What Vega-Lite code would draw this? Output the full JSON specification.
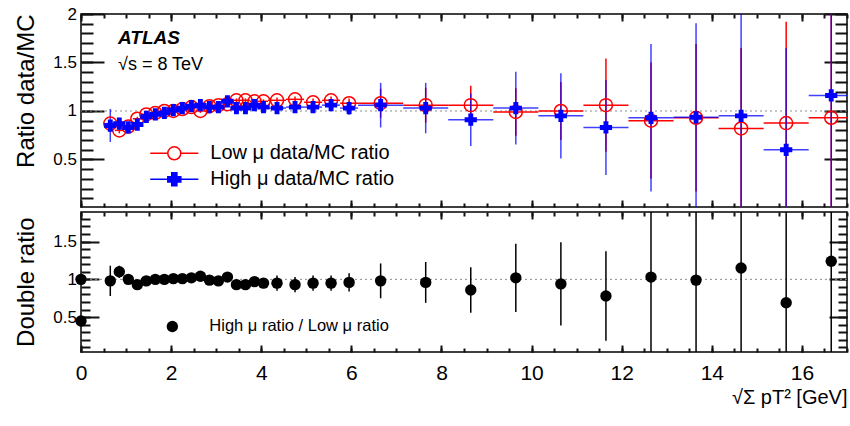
{
  "$schema": "https://vega.github.io/schema/vega-lite/v6.json",
  "autosize": {"type": "pad"},
  "padding": {"left": 13, "top": 4, "right": 4, "bottom": 4},
  "background": "white",
  "spacing": 1,
  "datasets": {
    "low": [
      {"x": 0.65, "xlo": 0.55, "xhi": 0.75, "y": 0.87, "ylo": 0.84, "yhi": 0.90},
      {"x": 0.85, "xlo": 0.75, "xhi": 0.95, "y": 0.80, "ylo": 0.77, "yhi": 0.83},
      {"x": 1.05, "xlo": 0.95, "xhi": 1.15, "y": 0.84, "ylo": 0.82, "yhi": 0.86},
      {"x": 1.25, "xlo": 1.15, "xhi": 1.35, "y": 0.92, "ylo": 0.90, "yhi": 0.94},
      {"x": 1.45, "xlo": 1.35, "xhi": 1.55, "y": 0.965, "ylo": 0.945, "yhi": 0.985},
      {"x": 1.65, "xlo": 1.55, "xhi": 1.75, "y": 0.98, "ylo": 0.96, "yhi": 1.00},
      {"x": 1.85, "xlo": 1.75, "xhi": 1.95, "y": 1.00, "ylo": 0.98, "yhi": 1.02},
      {"x": 2.05, "xlo": 1.95, "xhi": 2.15, "y": 1.00, "ylo": 0.98, "yhi": 1.02},
      {"x": 2.25, "xlo": 2.15, "xhi": 2.35, "y": 1.02, "ylo": 1.00, "yhi": 1.04},
      {"x": 2.45, "xlo": 2.35, "xhi": 2.55, "y": 1.04, "ylo": 1.02, "yhi": 1.06},
      {"x": 2.65, "xlo": 2.55, "xhi": 2.75, "y": 1.00, "ylo": 0.98, "yhi": 1.02},
      {"x": 2.85, "xlo": 2.75, "xhi": 2.95, "y": 1.05, "ylo": 1.03, "yhi": 1.07},
      {"x": 3.05, "xlo": 2.95, "xhi": 3.15, "y": 1.06, "ylo": 1.04, "yhi": 1.08},
      {"x": 3.25, "xlo": 3.15, "xhi": 3.35, "y": 1.07, "ylo": 1.05, "yhi": 1.09},
      {"x": 3.45, "xlo": 3.35, "xhi": 3.55, "y": 1.11, "ylo": 1.09, "yhi": 1.13},
      {"x": 3.65, "xlo": 3.55, "xhi": 3.75, "y": 1.11, "ylo": 1.09, "yhi": 1.13},
      {"x": 3.85, "xlo": 3.75, "xhi": 3.95, "y": 1.10, "ylo": 1.08, "yhi": 1.12},
      {"x": 4.05, "xlo": 3.95, "xhi": 4.15, "y": 1.10, "ylo": 1.08, "yhi": 1.12},
      {"x": 4.35, "xlo": 4.15, "xhi": 4.55, "y": 1.11, "ylo": 1.08, "yhi": 1.14},
      {"x": 4.75, "xlo": 4.55, "xhi": 4.95, "y": 1.12, "ylo": 1.09, "yhi": 1.15},
      {"x": 5.15, "xlo": 4.95, "xhi": 5.35, "y": 1.09, "ylo": 1.05, "yhi": 1.13},
      {"x": 5.55, "xlo": 5.35, "xhi": 5.75, "y": 1.11, "ylo": 1.07, "yhi": 1.15},
      {"x": 5.95, "xlo": 5.75, "xhi": 6.15, "y": 1.08, "ylo": 1.03, "yhi": 1.13},
      {"x": 6.65, "xlo": 6.15, "xhi": 7.15, "y": 1.08, "ylo": 0.93, "yhi": 1.23},
      {"x": 7.65, "xlo": 7.15, "xhi": 8.15, "y": 1.06, "ylo": 0.88, "yhi": 1.24},
      {"x": 8.65, "xlo": 8.15, "xhi": 9.15, "y": 1.06, "ylo": 0.86, "yhi": 1.26},
      {"x": 9.65, "xlo": 9.15, "xhi": 10.15, "y": 0.99, "ylo": 0.745, "yhi": 1.235},
      {"x": 10.65, "xlo": 10.15, "xhi": 11.15, "y": 1.00, "ylo": 0.70, "yhi": 1.30},
      {"x": 11.65, "xlo": 11.15, "xhi": 12.15, "y": 1.06, "ylo": 0.58, "yhi": 1.54},
      {"x": 12.65, "xlo": 12.15, "xhi": 13.15, "y": 0.90, "ylo": 0.30, "yhi": 1.50},
      {"x": 13.65, "xlo": 13.15, "xhi": 14.15, "y": 0.93, "ylo": 0.17, "yhi": 1.69},
      {"x": 14.65, "xlo": 14.15, "xhi": 15.15, "y": 0.82, "ylo": -0.01, "yhi": 1.65},
      {"x": 15.65, "xlo": 15.15, "xhi": 16.15, "y": 0.875, "ylo": -0.17, "yhi": 1.92},
      {"x": 16.65, "xlo": 16.15, "xhi": 17.15, "y": 0.93, "ylo": -0.27, "yhi": 2.13}
    ],
    "high": [
      {"x": 0.65, "xlo": 0.55, "xhi": 0.75, "y": 0.85, "ylo": 0.68, "yhi": 1.02},
      {"x": 0.85, "xlo": 0.75, "xhi": 0.95, "y": 0.87, "ylo": 0.81, "yhi": 0.93},
      {"x": 1.05, "xlo": 0.95, "xhi": 1.15, "y": 0.83, "ylo": 0.79, "yhi": 0.87},
      {"x": 1.25, "xlo": 1.15, "xhi": 1.35, "y": 0.86, "ylo": 0.82, "yhi": 0.90},
      {"x": 1.45, "xlo": 1.35, "xhi": 1.55, "y": 0.94, "ylo": 0.91, "yhi": 0.97},
      {"x": 1.65, "xlo": 1.55, "xhi": 1.75, "y": 0.965, "ylo": 0.935, "yhi": 0.995},
      {"x": 1.85, "xlo": 1.75, "xhi": 1.95, "y": 0.98, "ylo": 0.95, "yhi": 1.01},
      {"x": 2.05, "xlo": 1.95, "xhi": 2.15, "y": 1.01, "ylo": 0.98, "yhi": 1.04},
      {"x": 2.25, "xlo": 2.15, "xhi": 2.35, "y": 1.03, "ylo": 1.00, "yhi": 1.06},
      {"x": 2.45, "xlo": 2.35, "xhi": 2.55, "y": 1.05, "ylo": 1.02, "yhi": 1.08},
      {"x": 2.65, "xlo": 2.55, "xhi": 2.75, "y": 1.06, "ylo": 1.03, "yhi": 1.09},
      {"x": 2.85, "xlo": 2.75, "xhi": 2.95, "y": 1.04, "ylo": 1.01, "yhi": 1.07},
      {"x": 3.05, "xlo": 2.95, "xhi": 3.15, "y": 1.04, "ylo": 1.01, "yhi": 1.07},
      {"x": 3.25, "xlo": 3.15, "xhi": 3.35, "y": 1.10, "ylo": 1.07, "yhi": 1.13},
      {"x": 3.45, "xlo": 3.35, "xhi": 3.55, "y": 1.03, "ylo": 0.99, "yhi": 1.07},
      {"x": 3.65, "xlo": 3.55, "xhi": 3.75, "y": 1.03, "ylo": 0.99, "yhi": 1.07},
      {"x": 3.85, "xlo": 3.75, "xhi": 3.95, "y": 1.06, "ylo": 1.02, "yhi": 1.10},
      {"x": 4.05, "xlo": 3.95, "xhi": 4.15, "y": 1.04, "ylo": 1.00, "yhi": 1.08},
      {"x": 4.35, "xlo": 4.15, "xhi": 4.55, "y": 1.03, "ylo": 0.97, "yhi": 1.09},
      {"x": 4.75, "xlo": 4.55, "xhi": 4.95, "y": 1.04, "ylo": 0.98, "yhi": 1.10},
      {"x": 5.15, "xlo": 4.95, "xhi": 5.35, "y": 1.04, "ylo": 0.98, "yhi": 1.10},
      {"x": 5.55, "xlo": 5.35, "xhi": 5.75, "y": 1.06, "ylo": 1.00, "yhi": 1.12},
      {"x": 5.95, "xlo": 5.75, "xhi": 6.15, "y": 1.03, "ylo": 0.96, "yhi": 1.10},
      {"x": 6.65, "xlo": 6.15, "xhi": 7.15, "y": 1.06, "ylo": 0.83, "yhi": 1.29},
      {"x": 7.65, "xlo": 7.15, "xhi": 8.15, "y": 1.03, "ylo": 0.77, "yhi": 1.29},
      {"x": 8.65, "xlo": 8.15, "xhi": 9.15, "y": 0.91, "ylo": 0.64, "yhi": 1.18},
      {"x": 9.65, "xlo": 9.15, "xhi": 10.15, "y": 1.03, "ylo": 0.655, "yhi": 1.405},
      {"x": 10.65, "xlo": 10.15, "xhi": 11.15, "y": 0.95, "ylo": 0.51, "yhi": 1.39},
      {"x": 11.65, "xlo": 11.15, "xhi": 12.15, "y": 0.83, "ylo": 0.34, "yhi": 1.32},
      {"x": 12.65, "xlo": 12.15, "xhi": 13.15, "y": 0.93, "ylo": 0.17, "yhi": 1.69},
      {"x": 13.65, "xlo": 13.15, "xhi": 14.15, "y": 0.935, "ylo": -0.035, "yhi": 1.905},
      {"x": 14.65, "xlo": 14.15, "xhi": 15.15, "y": 0.95, "ylo": -0.35, "yhi": 2.25},
      {"x": 15.65, "xlo": 15.15, "xhi": 16.15, "y": 0.60, "ylo": -0.45, "yhi": 1.65},
      {"x": 16.65, "xlo": 16.15, "xhi": 17.15, "y": 1.16, "ylo": -0.34, "yhi": 2.66}
    ],
    "double": [
      {"x": 0, "y": 1.0, "ylo": 1.0, "yhi": 1.0},
      {"x": 0, "y": 0.45, "ylo": 0.45, "yhi": 0.45},
      {"x": 0.65, "y": 0.98, "ylo": 0.78, "yhi": 1.18},
      {"x": 0.85, "y": 1.10, "ylo": 1.02, "yhi": 1.18},
      {"x": 1.05, "y": 1.00, "ylo": 0.96, "yhi": 1.04},
      {"x": 1.25, "y": 0.93, "ylo": 0.89, "yhi": 0.97},
      {"x": 1.45, "y": 0.98, "ylo": 0.94, "yhi": 1.02},
      {"x": 1.65, "y": 1.00, "ylo": 0.96, "yhi": 1.04},
      {"x": 1.85, "y": 1.00, "ylo": 0.96, "yhi": 1.04},
      {"x": 2.05, "y": 1.01, "ylo": 0.97, "yhi": 1.05},
      {"x": 2.25, "y": 1.01, "ylo": 0.97, "yhi": 1.05},
      {"x": 2.45, "y": 1.02, "ylo": 0.98, "yhi": 1.06},
      {"x": 2.65, "y": 1.04, "ylo": 1.00, "yhi": 1.08},
      {"x": 2.85, "y": 0.99, "ylo": 0.95, "yhi": 1.03},
      {"x": 3.05, "y": 0.98, "ylo": 0.94, "yhi": 1.02},
      {"x": 3.25, "y": 1.03, "ylo": 0.99, "yhi": 1.07},
      {"x": 3.45, "y": 0.93, "ylo": 0.89, "yhi": 0.97},
      {"x": 3.65, "y": 0.93, "ylo": 0.89, "yhi": 0.97},
      {"x": 3.85, "y": 0.97, "ylo": 0.93, "yhi": 1.01},
      {"x": 4.05, "y": 0.95, "ylo": 0.91, "yhi": 0.99},
      {"x": 4.35, "y": 0.95, "ylo": 0.85, "yhi": 1.05},
      {"x": 4.75, "y": 0.93, "ylo": 0.83, "yhi": 1.03},
      {"x": 5.15, "y": 0.95, "ylo": 0.85, "yhi": 1.05},
      {"x": 5.55, "y": 0.95, "ylo": 0.85, "yhi": 1.05},
      {"x": 5.95, "y": 0.96, "ylo": 0.84, "yhi": 1.08},
      {"x": 6.65, "y": 0.98, "ylo": 0.75, "yhi": 1.21},
      {"x": 7.65, "y": 0.96, "ylo": 0.69, "yhi": 1.23},
      {"x": 8.65, "y": 0.86, "ylo": 0.56, "yhi": 1.16},
      {"x": 9.65, "y": 1.02, "ylo": 0.57, "yhi": 1.47},
      {"x": 10.65, "y": 0.94, "ylo": 0.39, "yhi": 1.49},
      {"x": 11.65, "y": 0.78, "ylo": 0.19, "yhi": 1.37},
      {"x": 12.65, "y": 1.03, "ylo": -0.2, "yhi": 2.2},
      {"x": 13.65, "y": 0.99, "ylo": -0.2, "yhi": 2.2},
      {"x": 14.65, "y": 1.15, "ylo": -0.1, "yhi": 2.4},
      {"x": 15.65, "y": 0.69, "ylo": -0.5, "yhi": 1.9},
      {"x": 16.65, "y": 1.24, "ylo": 0.0, "yhi": 2.5}
    ]
  },
  "vconcat": [
    {
      "width": 766,
      "height": 193,
      "title": {
        "text": "ATLAS",
        "subtitle": "√s = 8 TeV",
        "anchor": "start",
        "frame": "group",
        "orient": "top",
        "offset": -69,
        "dx": 37,
        "font": "Liberation Sans",
        "fontSize": 19,
        "fontStyle": "italic",
        "fontWeight": "bold",
        "color": "black",
        "subtitleFont": "Liberation Sans",
        "subtitleFontSize": 18,
        "subtitleColor": "black",
        "subtitlePadding": 8
      },
      "resolve": {"axis": {"x": "independent", "y": "independent"}},
      "layer": [
        {
          "data": {"values": [{}]},
          "mark": {"type": "rule", "stroke": "#8c8c8c", "strokeDash": [2, 3], "strokeWidth": 1},
          "encoding": {
            "y": {
              "datum": 1, "type": "quantitative",
              "scale": {"domain": [0.01, 2], "nice": false, "zero": false},
              "axis": {
                "orient": "left",
                "values": [0.5, 1, 1.5, 2],
                "format": "~g",
                "offset": -23,
                "tickSize": 23,
                "tickColor": "#111111",
                "tickWidth": 2,
                "minExtent": 0,
                "labelFontSize": 17,
                "labelPadding": 4.5,
                "title": "Ratio data/MC",
                "titleFontSize": 24,
                "titleX": -77.5,
                "titleY": 0,
                "titleAlign": "right",
                "titleBaseline": "middle",
                "titleAngle": -90
              }
            }
          }
        },
        {
          "data": {"name": "low"},
          "mark": {"type": "rule", "stroke": "#ff0000", "strokeWidth": 1.5, "clip": true},
          "encoding": {
            "x": {
              "field": "xlo", "type": "quantitative",
              "scale": {"domain": [0, 17], "nice": false, "zero": false},
              "axis": {"orient": "bottom", "values": [0,2,4,6,8,10,12,14,16], "offset": -7, "tickSize": 7, "tickColor": "#111111", "tickWidth": 2, "minExtent": 0, "labels": false, "title": null}
            },
            "x2": {"field": "xhi"},
            "y": {
              "field": "y", "type": "quantitative",
              "axis": {"orient": "left", "values": [0.1,0.2,0.3,0.4,0.5,0.6,0.7,0.8,0.9,1,1.1,1.2,1.3,1.4,1.5,1.6,1.7,1.8,1.9,2], "offset": -12, "tickSize": 12, "tickColor": "#111111", "tickWidth": 2, "minExtent": 0, "labels": false, "title": null}
            }
          }
        },
        {
          "data": {"name": "low"},
          "mark": {"type": "rule", "stroke": "#ff0000", "strokeWidth": 1.5, "clip": true},
          "encoding": {
            "x": {
              "field": "x", "type": "quantitative",
              "axis": {"orient": "bottom", "values": [0,0.5,1,1.5,2,2.5,3,3.5,4,4.5,5,5.5,6,6.5,7,7.5,8,8.5,9,9.5,10,10.5,11,11.5,12,12.5,13,13.5,14,14.5,15,15.5,16,16.5,17], "offset": -4, "tickSize": 4, "tickColor": "#111111", "tickWidth": 2, "minExtent": 0, "labels": false, "title": null}
            },
            "y": {
              "field": "ylo", "type": "quantitative",
              "axis": {"orient": "right", "values": [0.5, 1, 1.5, 2], "offset": -23, "tickSize": 23, "tickColor": "#111111", "tickWidth": 2, "minExtent": 0, "labels": false, "title": null}
            },
            "y2": {"field": "yhi"}
          }
        },
        {
          "data": {"name": "high"},
          "mark": {"type": "rule", "stroke": "#0000ff", "strokeWidth": 1.5, "opacity": 0.75, "clip": true},
          "encoding": {
            "x": {
              "field": "xlo", "type": "quantitative",
              "axis": {"orient": "top", "values": [0,2,4,6,8,10,12,14,16], "offset": -7, "tickSize": 7, "tickColor": "#111111", "tickWidth": 2, "minExtent": 0, "labels": false, "title": null}
            },
            "x2": {"field": "xhi"},
            "y": {
              "field": "y", "type": "quantitative",
              "axis": {"orient": "right", "values": [0.1,0.2,0.3,0.4,0.5,0.6,0.7,0.8,0.9,1,1.1,1.2,1.3,1.4,1.5,1.6,1.7,1.8,1.9,2], "offset": -12, "tickSize": 12, "tickColor": "#111111", "tickWidth": 2, "minExtent": 0, "labels": false, "title": null}
            }
          }
        },
        {
          "data": {"name": "high"},
          "mark": {"type": "rule", "stroke": "#0000ff", "strokeWidth": 1.5, "opacity": 0.75, "clip": true},
          "encoding": {
            "x": {
              "field": "x", "type": "quantitative",
              "axis": {"orient": "top", "values": [0,0.5,1,1.5,2,2.5,3,3.5,4,4.5,5,5.5,6,6.5,7,7.5,8,8.5,9,9.5,10,10.5,11,11.5,12,12.5,13,13.5,14,14.5,15,15.5,16,16.5,17], "offset": -4, "tickSize": 4, "tickColor": "#111111", "tickWidth": 2, "minExtent": 0, "labels": false, "title": null}
            },
            "y": {"field": "ylo", "type": "quantitative", "axis": null},
            "y2": {"field": "yhi"}
          }
        },
        {
          "data": {"name": "low"},
          "mark": {"type": "point", "shape": "circle", "size": 169, "filled": false, "color": "#ff0000", "strokeWidth": 1.5, "opacity": 1},
          "encoding": {
            "x": {"field": "x", "type": "quantitative", "axis": null},
            "y": {"field": "y", "type": "quantitative", "axis": null}
          }
        },
        {
          "data": {"name": "high"},
          "mark": {"type": "point", "shape": "cross", "size": 150, "filled": true, "color": "#0000ff", "opacity": 1},
          "encoding": {
            "x": {"field": "x", "type": "quantitative", "axis": null},
            "y": {"field": "y", "type": "quantitative", "axis": null}
          }
        },
        {
          "data": {"values": []},
          "mark": {"type": "point", "size": 169, "strokeWidth": 1.5, "opacity": 1},
          "encoding": {
            "shape": {
              "field": "series", "type": "nominal",
              "scale": {"domain": ["Low μ data/MC ratio", "High μ data/MC ratio"], "range": ["M-3.7,0H-1A1,1,0,1,1,1,0A1,1,0,1,1,-1,0M1,0H3.7", "M-1,-0.4H-0.4V-1H0.4V-0.4H1V0.4H0.4V1H-0.4V0.4H-1ZM-3.7,0H3.7"]},
              "legend": {"orient": "none", "legendX": 83.3, "legendY": 129.3, "title": null, "padding": 0, "labelFontSize": 20, "labelOffset": 26, "rowPadding": 6, "symbolSize": 169, "symbolStrokeWidth": 1.5}
            },
            "stroke": {
              "field": "series", "type": "nominal",
              "scale": {"domain": ["Low μ data/MC ratio", "High μ data/MC ratio"], "range": ["#ff0000", "#0000ff"]},
              "legend": {"orient": "none", "legendX": 83.3, "legendY": 129.3, "title": null, "padding": 0, "labelFontSize": 20, "labelOffset": 26, "rowPadding": 6, "symbolSize": 169, "symbolStrokeWidth": 1.5}
            },
            "fill": {
              "field": "series", "type": "nominal",
              "scale": {"domain": ["Low μ data/MC ratio", "High μ data/MC ratio"], "range": ["transparent", "#0000ff"]},
              "legend": {"orient": "none", "legendX": 83.3, "legendY": 129.3, "title": null, "padding": 0, "labelFontSize": 20, "labelOffset": 26, "rowPadding": 6, "symbolSize": 169, "symbolStrokeWidth": 1.5}
            }
          }
        }
      ]
    },
    {
      "width": 766,
      "height": 140,
      "resolve": {"axis": {"x": "independent", "y": "independent"}},
      "layer": [
        {
          "data": {"values": [{}]},
          "mark": {"type": "rule", "stroke": "#8c8c8c", "strokeDash": [2, 3], "strokeWidth": 1},
          "encoding": {
            "y": {
              "datum": 1, "type": "quantitative",
              "scale": {"domain": [0.04, 1.89], "nice": false, "zero": false},
              "axis": {
                "orient": "left",
                "values": [0.5, 1, 1.5],
                "format": "~g",
                "offset": -18,
                "tickSize": 18,
                "tickColor": "#111111",
                "tickWidth": 2,
                "minExtent": 0,
                "labelFontSize": 17,
                "labelPadding": 4.5,
                "title": "Double ratio",
                "titleFontSize": 24,
                "titleX": -72.5,
                "titleY": 5,
                "titleAlign": "right",
                "titleBaseline": "middle",
                "titleAngle": -90
              }
            }
          }
        },
        {
          "data": {"name": "double"},
          "mark": {"type": "rule", "stroke": "#000000", "strokeWidth": 1.5, "clip": true},
          "encoding": {
            "x": {
              "field": "x", "type": "quantitative",
              "scale": {"domain": [0, 17], "nice": false, "zero": false},
              "axis": {
                "orient": "bottom",
                "values": [0,2,4,6,8,10,12,14,16],
                "format": "~g",
                "offset": -7,
                "tickSize": 7,
                "tickColor": "#111111",
                "tickWidth": 2,
                "minExtent": 0,
                "labelFontSize": 21,
                "labelPadding": 10,
                "title": "√Σ pT² [GeV]",
                "titleFontSize": 20,
                "titleX": 766,
                "titleY": 58,
                "titleAlign": "right",
                "titleBaseline": "alphabetic",
                "titleAngle": 0
              }
            },
            "y": {
              "field": "ylo", "type": "quantitative",
              "axis": {"orient": "left", "values": [0.1,0.2,0.3,0.4,0.5,0.6,0.7,0.8,0.9,1,1.1,1.2,1.3,1.4,1.5,1.6,1.7,1.8], "offset": -9, "tickSize": 9, "tickColor": "#111111", "tickWidth": 2, "minExtent": 0, "labels": false, "title": null}
            },
            "y2": {"field": "yhi"}
          }
        },
        {
          "data": {"name": "double"},
          "mark": {"type": "point", "shape": "circle", "size": 130, "filled": true, "opacity": 1},
          "encoding": {
            "x": {
              "field": "x", "type": "quantitative",
              "axis": {"orient": "bottom", "values": [0,0.5,1,1.5,2,2.5,3,3.5,4,4.5,5,5.5,6,6.5,7,7.5,8,8.5,9,9.5,10,10.5,11,11.5,12,12.5,13,13.5,14,14.5,15,15.5,16,16.5,17], "offset": -4, "tickSize": 4, "tickColor": "#111111", "tickWidth": 2, "minExtent": 0, "labels": false, "title": null}
            },
            "y": {
              "field": "y", "type": "quantitative",
              "axis": {"orient": "right", "values": [0.5, 1, 1.5], "offset": -18, "tickSize": 18, "tickColor": "#111111", "tickWidth": 2, "minExtent": 0, "labels": false, "title": null}
            },
            "fill": {
              "datum": "High μ ratio / Low μ ratio", "type": "nominal",
              "scale": {"range": ["#000000"]},
              "legend": {"orient": "none", "legendX": 83.1, "legendY": 106.2, "title": null, "padding": 0, "labelFontSize": 16.5, "labelOffset": 28.7, "symbolSize": 130}
            }
          }
        },
        {
          "data": {"values": []},
          "mark": {"type": "point"},
          "encoding": {
            "x": {
              "field": "x", "type": "quantitative",
              "axis": {"orient": "top", "values": [0,2,4,6,8,10,12,14,16], "offset": -7, "tickSize": 7, "tickColor": "#111111", "tickWidth": 2, "minExtent": 0, "labels": false, "title": null}
            },
            "y": {
              "field": "y", "type": "quantitative",
              "axis": {"orient": "right", "values": [0.1,0.2,0.3,0.4,0.5,0.6,0.7,0.8,0.9,1,1.1,1.2,1.3,1.4,1.5,1.6,1.7,1.8], "offset": -9, "tickSize": 9, "tickColor": "#111111", "tickWidth": 2, "minExtent": 0, "labels": false, "title": null}
            }
          }
        },
        {
          "data": {"values": []},
          "mark": {"type": "point"},
          "encoding": {
            "x": {
              "field": "x", "type": "quantitative",
              "axis": {"orient": "top", "values": [0,0.5,1,1.5,2,2.5,3,3.5,4,4.5,5,5.5,6,6.5,7,7.5,8,8.5,9,9.5,10,10.5,11,11.5,12,12.5,13,13.5,14,14.5,15,15.5,16,16.5,17], "offset": -4, "tickSize": 4, "tickColor": "#111111", "tickWidth": 2, "minExtent": 0, "labels": false, "title": null}
            }
          }
        }
      ]
    }
  ],
  "resolve": {
    "scale": {"fill": "independent", "stroke": "independent", "shape": "independent"},
    "legend": {"fill": "independent", "stroke": "independent", "shape": "independent"}
  },
  "config": {
    "font": "Liberation Sans",
    "view": {"stroke": "#000000", "strokeWidth": 1.5},
    "axis": {
      "domain": false,
      "grid": false,
      "ticks": true,
      "tickOpacity": 1,
      "zindex": 1,
      "labelColor": "#000000",
      "labelFont": "Liberation Sans",
      "titleColor": "#000000",
      "titleFont": "Liberation Sans",
      "titleFontWeight": "normal",
      "labelFlush": false,
      "labelOverlap": false,
      "minExtent": 0
    },
    "legend": {
      "labelFont": "Liberation Sans",
      "labelColor": "#000000",
      "labelLimit": 400
    }
  }
}
